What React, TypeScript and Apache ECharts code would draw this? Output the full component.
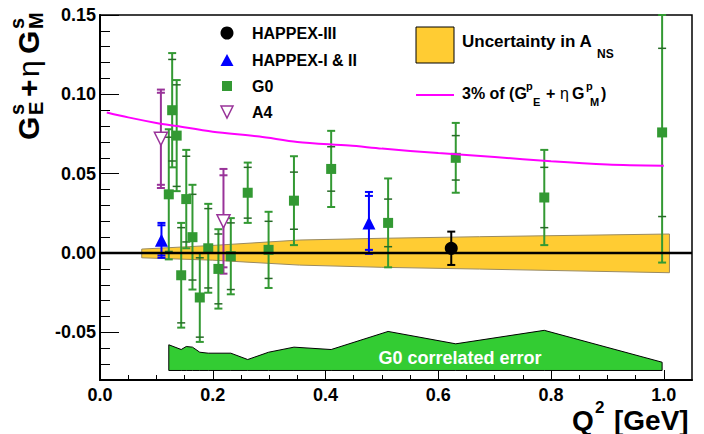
import React, { useEffect, useRef } from "react";
import * as echarts from "echarts";

// ---------- data ----------
const g0Q = [0.122, 0.128, 0.136, 0.144, 0.153, 0.164, 0.177, 0.192, 0.210, 0.232, 0.262, 0.299, 0.344, 0.410, 0.511, 0.631, 0.788, 0.997];
const g0Val = [0.037, 0.090, 0.074, -0.014, 0.034, 0.010, -0.028, 0.003, -0.010, -0.002, 0.038, 0.002, 0.033, 0.053, 0.019, 0.060, 0.035, 0.076];
const g0Stat = [0.036, 0.032, 0.032, 0.030, 0.027, 0.027, 0.025, 0.025, 0.022, 0.021, 0.016, 0.018, 0.018, 0.014, 0.015, 0.014, 0.019, 0.053];
const g0Tot = [0.041, 0.036, 0.035, 0.033, 0.031, 0.033, 0.028, 0.028, 0.025, 0.024, 0.019, 0.024, 0.028, 0.024, 0.028, 0.022, 0.030, 0.082];

const happexQ = [0.109, 0.477];
const happexVal = [0.008, 0.019];
const happexStat = [0.0095, 0.017];
const happexTot = [0.011, 0.0195];

const happex3Q = [0.623];
const happex3Val = [0.003];
const happex3Err = [0.0105];

const a4Q = [0.108, 0.219];
const a4Val = [0.072, 0.020];
const a4Stat = [0.029, 0.029];
const a4Tot = [0.031, 0.033];

const curveQ = [0.012, 0.05, 0.1, 0.136, 0.2, 0.283, 0.35, 0.442, 0.5, 0.6, 0.7, 0.8, 0.9, 1.0];
const curveVal = [0.0886, 0.0855, 0.082, 0.080, 0.0765, 0.0734, 0.070, 0.0677, 0.0658, 0.063, 0.0605, 0.0578, 0.0558, 0.055];

const bandQ = [0.074, 0.2, 0.354, 0.5, 0.673, 1.01];
const bandHi = [0.0025, 0.0048, 0.0082, 0.0093, 0.0103, 0.012];
const bandLo = [-0.003, -0.0045, -0.0076, -0.009, -0.0101, -0.0124];

const corrQ = [0.122, 0.144, 0.153, 0.164, 0.177, 0.192, 0.232, 0.262, 0.299, 0.344, 0.410, 0.511, 0.631, 0.788, 0.997];
const corrTop = [-0.0578, -0.0608, -0.0589, -0.0593, -0.0625, -0.0631, -0.0631, -0.0671, -0.0625, -0.0593, -0.0608, -0.0494, -0.0572, -0.0487, -0.0688];
const corrBase = -0.074;

const zeroLineQ = [0, 1.05];

const xMajor = [0, 0.2, 0.4, 0.6, 0.8, 1.0];
const xMinor = [0.05, 0.1, 0.15, 0.25, 0.3, 0.35, 0.45, 0.5, 0.55, 0.65, 0.7, 0.75, 0.85, 0.9, 0.95];
const yMajor = [-0.05, 0, 0.05, 0.1, 0.15];
const yMinor = [-0.08, -0.07, -0.06, -0.04, -0.03, -0.02, -0.01, 0.01, 0.02, 0.03, 0.04, 0.06, 0.07, 0.08, 0.09, 0.11, 0.12, 0.13, 0.14];

const X_MIN = 0;
const X_MAX = 1.05;
const Y_MIN = -0.08;
const Y_MAX = 0.15;

// ---------- style ----------
const FONT = '"Liberation Sans", Arial, Helvetica, sans-serif';
const G0_COLOR = "#339933";
const G0_TICK = "#276b27";
const BLUE = "#0000ff";
const PURPLE = "#993399";
const YELLOW = "#ffcc33";
const CORR_GREEN = "#33cc33";
const MAGENTA = "#ff00ff";

function errRender(color: string, tickColor: string, mode: "g0" | "double" | "single") {
  return (params: any, api: any) => {
    const x = api.value(0);
    const v = api.value(1);
    const s = api.value(2);
    const t = api.value(3);
    const top = api.coord([x, Math.min(v + t, Y_MAX)]);
    const bot = api.coord([x, Math.max(v - t, Y_MIN)]);
    const sTop = api.coord([x, v + s]);
    const sBot = api.coord([x, v - s]);
    const hw = 4;
    const cap = (p: number[], c: string, w: number) => ({
      type: "line",
      shape: { x1: p[0] - hw, y1: p[1], x2: p[0] + hw, y2: p[1] },
      style: { stroke: c, lineWidth: w },
    });
    const children: any[] = [
      {
        type: "line",
        shape: { x1: top[0], y1: top[1], x2: bot[0], y2: bot[1] },
        style: { stroke: color, lineWidth: 2 },
      },
      cap(top, color, 2),
      cap(bot, color, 2),
    ];
    if (mode === "g0") {
      children.push(cap(sTop, tickColor, 1.5), cap(sBot, tickColor, 1.5));
    } else if (mode === "double") {
      children.push(cap(sTop, color, 2), cap(sBot, color, 2));
    }
    return { type: "group", children };
  };
}

function polygonRender(xs: number[], his: number[], los: number[], style: any) {
  return (params: any, api: any) => {
    const pts: number[][] = [];
    for (let i = 0; i < xs.length; i++) pts.push(api.coord([xs[i], his[i]]));
    for (let i = xs.length - 1; i >= 0; i--) pts.push(api.coord([xs[i], los[i]]));
    return { type: "polygon", shape: { points: pts }, style };
  };
}

function txt(text: string, x: number, y: number, size: number, opts: any = {}) {
  return {
    type: "text",
    x,
    y,
    z: 100,
    silent: true,
    style: {
      text,
      fill: opts.fill || "#000",
      font: `${opts.weight || "bold"} ${size}px ${FONT}`,
      align: opts.align || "left",
      verticalAlign: "middle",
    },
  };
}

export default function App() {
  const ref = useRef<HTMLDivElement>(null);

  useEffect(() => {
    const chart = echarts.init(ref.current!, null, { renderer: "svg" });

    const labelStyle = { fontSize: 18, fontWeight: "bold", color: "#000", fontFamily: FONT };

    const option: any = {
      animation: false,
      backgroundColor: "#fff",
      grid: {
        left: 100,
        top: 15,
        width: 592,
        height: 365,
        show: true,
        borderColor: "#000",
        borderWidth: 1.5,
        backgroundColor: "transparent",
      },
      xAxis: [
        {
          type: "value",
          min: X_MIN,
          max: X_MAX,
          position: "bottom",
          axisLine: { show: true, onZero: false, lineStyle: { color: "#000", width: 2 } },
          axisTick: { show: true, inside: true, length: 10, customValues: xMajor, lineStyle: { color: "#000", width: 1 } },
          axisLabel: {
            ...labelStyle,
            customValues: xMajor,
            margin: 6,
            formatter: (v: any) => Number(v).toFixed(1),
          },
          splitLine: { show: false },
        },
        {
          type: "value",
          min: X_MIN,
          max: X_MAX,
          position: "bottom",
          axisLine: { show: false, onZero: false },
          axisTick: { show: true, inside: true, length: 5, customValues: xMinor, lineStyle: { color: "#000", width: 1 } },
          axisLabel: { show: false },
          splitLine: { show: false },
        },
      ],
      yAxis: [
        {
          type: "value",
          min: Y_MIN,
          max: Y_MAX,
          position: "left",
          axisLine: { show: true, onZero: false, lineStyle: { color: "#000", width: 2 } },
          axisTick: { show: true, inside: true, length: 19, customValues: yMajor, lineStyle: { color: "#000", width: 1 } },
          axisLabel: {
            ...labelStyle,
            customValues: yMajor,
            margin: 4,
            formatter: (v: any) => Number(v).toFixed(2),
          },
          splitLine: { show: false },
        },
        {
          type: "value",
          min: Y_MIN,
          max: Y_MAX,
          position: "left",
          axisLine: { show: false, onZero: false },
          axisTick: { show: true, inside: true, length: 10, customValues: yMinor, lineStyle: { color: "#000", width: 1 } },
          axisLabel: { show: false },
          splitLine: { show: false },
        },
      ],
      series: [
        {
          type: "custom",
          name: "band",
          silent: true,
          clip: true,
          data: [[bandQ[0], bandHi[0]]],
          renderItem: polygonRender(bandQ, bandHi, bandLo, { fill: YELLOW, stroke: "#9a8a60", lineWidth: 1 }),
        },
        {
          type: "custom",
          name: "corr",
          silent: true,
          clip: true,
          data: [[corrQ[0], corrTop[0]]],
          renderItem: polygonRender(corrQ, corrTop, corrQ.map(() => corrBase), { fill: CORR_GREEN, stroke: "#000", lineWidth: 1 }),
        },
        {
          type: "line",
          name: "zero",
          silent: true,
          symbol: "none",
          data: zeroLineQ.map((q) => [q, 0]),
          lineStyle: { color: "#000", width: 2.5 },
        },
        {
          type: "line",
          name: "3%",
          silent: true,
          symbol: "none",
          smooth: 0.3,
          data: curveQ.map((q, i) => [q, curveVal[i]]),
          lineStyle: { color: MAGENTA, width: 2 },
        },
        {
          type: "custom",
          name: "G0 err",
          silent: true,
          data: g0Q.map((q, i) => [q, g0Val[i], g0Stat[i], g0Tot[i]]),
          renderItem: errRender(G0_COLOR, G0_TICK, "g0"),
        },
        {
          type: "custom",
          name: "A4 err",
          silent: true,
          data: a4Q.map((q, i) => [q, a4Val[i], a4Stat[i], a4Tot[i]]),
          renderItem: errRender(PURPLE, PURPLE, "double"),
        },
        {
          type: "custom",
          name: "HAPPEX err",
          silent: true,
          data: happexQ.map((q, i) => [q, happexVal[i], happexStat[i], happexTot[i]]),
          renderItem: errRender(BLUE, BLUE, "double"),
        },
        {
          type: "custom",
          name: "HAPPEX3 err",
          silent: true,
          data: happex3Q.map((q, i) => [q, happex3Val[i], happex3Err[i], happex3Err[i]]),
          renderItem: errRender("#000", "#000", "single"),
        },
        {
          type: "scatter",
          name: "G0",
          symbol: "rect",
          symbolSize: 10,
          itemStyle: { color: G0_COLOR, opacity: 1 },
          data: g0Q.map((q, i) => [q, g0Val[i]]),
        },
        {
          type: "scatter",
          name: "A4",
          symbol: "triangle",
          symbolRotate: 180,
          symbolSize: 13,
          itemStyle: { color: "#fff", borderColor: PURPLE, borderWidth: 1.5, opacity: 1 },
          data: a4Q.map((q, i) => [q, a4Val[i]]),
        },
        {
          type: "scatter",
          name: "HAPPEX-I & II",
          symbol: "triangle",
          symbolSize: 13,
          itemStyle: { color: BLUE, opacity: 1 },
          data: happexQ.map((q, i) => [q, happexVal[i]]),
        },
        {
          type: "scatter",
          name: "HAPPEX-III",
          symbol: "circle",
          symbolSize: 13,
          itemStyle: { color: "#000", opacity: 1 },
          data: happex3Q.map((q, i) => [q, happex3Val[i]]),
        },
      ],
      graphic: [
        // left legend
        { type: "circle", z: 100, silent: true, shape: { cx: 227, cy: 33, r: 6.5 }, style: { fill: "#000" } },
        txt("HAPPEX-III", 252, 33, 16),
        { type: "polygon", z: 100, silent: true, shape: { points: [[227, 54], [220.5, 66], [233.5, 66]] }, style: { fill: BLUE } },
        txt("HAPPEX-I & II", 252, 60, 16),
        { type: "rect", z: 100, silent: true, shape: { x: 222, y: 81, width: 10, height: 10 }, style: { fill: G0_COLOR } },
        txt("G0", 252, 86, 16),
        { type: "polygon", z: 100, silent: true, shape: { points: [[221, 106], [233, 106], [227, 118]] }, style: { fill: "#fff", stroke: PURPLE, lineWidth: 1.5 } },
        txt("A4", 252, 112, 16),
        // right legend
        { type: "rect", z: 100, silent: true, shape: { x: 416, y: 27, width: 38, height: 36 }, style: { fill: YELLOW, stroke: "#000", lineWidth: 1 } },
        txt("Uncertainty in A", 462, 41, 17),
        txt("NS", 597, 54, 12),
        { type: "line", z: 100, silent: true, shape: { x1: 416, y1: 95, x2: 454, y2: 95 }, style: { stroke: MAGENTA, lineWidth: 2 } },
        txt("3% of (G", 462, 93, 16),
        txt("p", 526, 86, 11),
        txt("E", 533, 102, 11),
        txt("+", 546, 93, 16),
        txt("\u03b7", 560, 93, 16, { weight: "normal" }),
        txt("G", 572, 93, 16),
        txt("p", 586, 86, 11),
        txt("M", 590, 102, 11),
        txt(")", 601, 93, 16),
        // correlated error label
        txt("G0 correlated error", 460, 358, 18, { fill: "#fff", align: "center" }),
        // x-axis title
        txt("Q", 572, 420, 28),
        txt("2", 595, 407, 17),
        txt("[GeV]", 614, 420, 28),
        // y-axis title (rotated)
        {
          type: "group",
          x: 28,
          y: 140,
          z: 100,
          rotation: Math.PI / 2,
          silent: true,
          children: [
            txt("G", 0, 0, 30),
            txt("s", 25, -11, 20),
            txt("E", 25, 8, 20),
            txt("+", 43, 0, 30),
            txt("\u03b7", 63, 0, 30, { weight: "normal" }),
            txt("G", 86, 0, 30),
            txt("s", 111, -11, 20),
            txt("M", 111, 8, 20),
          ],
        },
      ],
    };

    chart.setOption(option);
    return () => chart.dispose();
  }, []);

  return (
    <div
      ref={ref}
      style={{ position: "absolute", left: 0, top: 0, width: 704, height: 434 }}
    />
  );
}
